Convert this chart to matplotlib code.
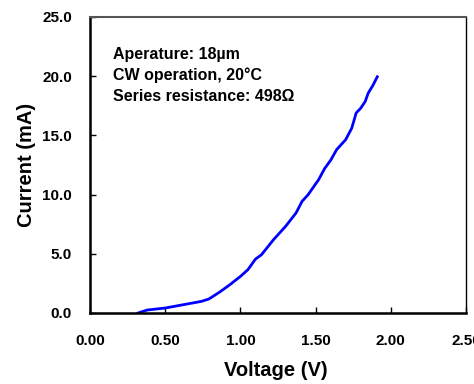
import matplotlib
matplotlib.use("Agg")
import matplotlib.pyplot as plt

voltage = [0.32, 0.38, 0.50, 0.62, 0.74, 0.79, 0.86, 0.93, 1.00, 1.05, 1.10, 1.14,
           1.22, 1.30, 1.37, 1.41, 1.45, 1.52, 1.56, 1.60, 1.64, 1.70, 1.74, 1.77,
           1.80, 1.83, 1.85, 1.88, 1.91]
current = [0.0, 0.25, 0.42, 0.70, 0.98, 1.18, 1.75, 2.39, 3.09, 3.66, 4.55, 4.92,
           6.19, 7.31, 8.45, 9.43, 9.99, 11.26, 12.2, 12.9, 13.8, 14.64, 15.6, 16.9,
           17.3, 17.87, 18.58, 19.2, 19.95]

xticks = [0.0, 0.5, 1.0, 1.5, 2.0, 2.5]
yticks = [0.0, 5.0, 10.0, 15.0, 20.0, 25.0]
annotation = ["Aperature: 18\u00b5m", "CW operation, 20\u00b0C", "Series resistance: 498\u03a9"]

plt.rcParams['font.family'] = ['Liberation Sans', 'DejaVu Sans']
plt.rcParams['font.weight'] = 'bold'

fig = plt.figure(figsize=(4.74, 3.84), dpi=100)
ax = fig.add_axes([90/474, 1-313/384, (466-90)/474, (313-17)/384])
ax.plot(voltage, current, color='#0000ff', lw=2.0)
ax.set_xlim(0, 2.5)
ax.set_ylim(0, 25)
ax.set_xticks(xticks)
ax.set_xticklabels([f"{v:.2f}" for v in xticks])
ax.set_yticks(yticks)
ax.set_yticklabels([f"{v:.1f}" for v in yticks])
ax.tick_params(direction='in', length=4, width=1, labelsize=11)
ax.tick_params(axis='x', pad=15)
ax.tick_params(axis='y', pad=13)
for lab in ax.get_xticklabels() + ax.get_yticklabels():
    lab.set_fontweight('bold')
ax.spines['left'].set_linewidth(1.8)
ax.spines['bottom'].set_linewidth(1.8)
ax.spines['top'].set_linewidth(1.5)
ax.spines['top'].set_color('#555555')
ax.spines['right'].set_linewidth(1.0)
ax.set_xlabel("Voltage (V)", fontsize=14.5, fontweight='bold', va='center')
ax.set_ylabel("Current (mA)", fontsize=14.5, fontweight='bold', va='center')
ax.xaxis.set_label_coords(0.495, (313-370)/296)
ax.yaxis.set_label_coords((27-90)/376, 0.5)
for i, t in enumerate(annotation):
    ax.text(0.06, 0.875 - i*0.072, t, transform=ax.transAxes, fontsize=11.5,
            fontweight='bold', va='center', ha='left')
fig.savefig("out.png", dpi=100)
